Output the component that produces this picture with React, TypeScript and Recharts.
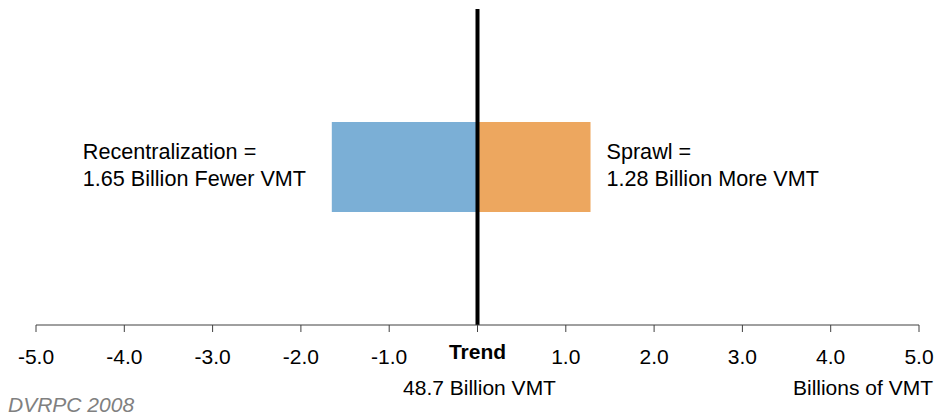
import { Bar, BarChart, LabelList, ReferenceLine, XAxis, YAxis } from "recharts";

// one scenario row, two deltas against the trend (billions of VMT)
const categories = ["Change vs. Trend"];
const recentralization = [-1.65];
const sprawl = [1.28];
const xTicks = [-5, -4, -3, -2, -1, 0, 1, 2, 3, 4, 5];
const trendTotal = 48.7;

const rows = categories.map((name, i) => ({
  name,
  recentralization: recentralization[i],
  sprawl: sprawl[i],
}));

const FONT = '"Liberation Sans", Arial, sans-serif';

function Tick(props: any) {
  const { x, y, payload } = props;
  if (payload.value === 0) {
    return (
      <g fontFamily={FONT} fontSize={21} fill="#000">
        <text x={x} y={y + 27} textAnchor="middle" fontWeight="bold">
          Trend
        </text>
        <text x={x + 2} y={y + 63} textAnchor="middle">
          {trendTotal.toFixed(1)} Billion VMT
        </text>
      </g>
    );
  }
  return (
    <text x={x} y={y + 32} textAnchor="middle" fontFamily={FONT} fontSize={21} fill="#000">
      {payload.value.toFixed(1)}
    </text>
  );
}

function AxisNotes(props: any) {
  const vb = props.viewBox || {};
  return (
    <g fontFamily={FONT} fontSize={21}>
      <text x={vb.x + vb.width + 14} y={vb.y + 70} textAnchor="end" fill="#000">
        Billions of VMT
      </text>
      <text x={vb.x - 28} y={vb.y + 87} fill="#808080" fontStyle="italic">
        DVRPC 2008
      </text>
    </g>
  );
}

function makeNote(lines: string[], side: "left" | "right") {
  return (props: any) => {
    const { x, y, width, height } = props;
    const left = Math.min(x, x + width);
    const right = Math.max(x, x + width);
    const tx = side === "left" ? left - 249 : right + 16;
    const cy = y + height / 2;
    return (
      <g fontFamily={FONT} fontSize={21.6} fill="#000">
        <text x={tx} y={cy - 8}>{lines[0]}</text>
        <text x={tx} y={cy + 19}>{lines[1]}</text>
      </g>
    );
  };
}

export default function App() {
  return (
    <div style={{ position: "absolute", left: 0, top: 0 }}>
      <BarChart
        width={939}
        height={416}
        data={rows}
        layout="vertical"
        stackOffset="sign"
        margin={{ top: 9, right: 20, left: 36, bottom: 31 }}
      >
        <XAxis
          type="number"
          domain={[-5, 5]}
          ticks={xTicks}
          interval={0}
          height={60}
          tickSize={7}
          tickMargin={0}
          stroke="#404040"
          tick={<Tick />}
          label={<AxisNotes />}
        />
        <YAxis type="category" dataKey="name" hide width={0} />
        <Bar
          dataKey="recentralization"
          stackId="a"
          fill="#7bafd6"
          barSize={90}
          isAnimationActive={false}
        >
          <LabelList
            dataKey="recentralization"
            content={makeNote(
              ["Recentralization =", `${Math.abs(recentralization[0]).toFixed(2)} Billion Fewer VMT`],
              "left"
            )}
          />
        </Bar>
        <Bar
          dataKey="sprawl"
          stackId="a"
          fill="#eda75f"
          barSize={90}
          isAnimationActive={false}
        >
          <LabelList
            dataKey="sprawl"
            content={makeNote(["Sprawl =", `${sprawl[0].toFixed(2)} Billion More VMT`], "right")}
          />
        </Bar>
        <ReferenceLine x={0} stroke="#000" strokeWidth={4} />
      </BarChart>
    </div>
  );
}
